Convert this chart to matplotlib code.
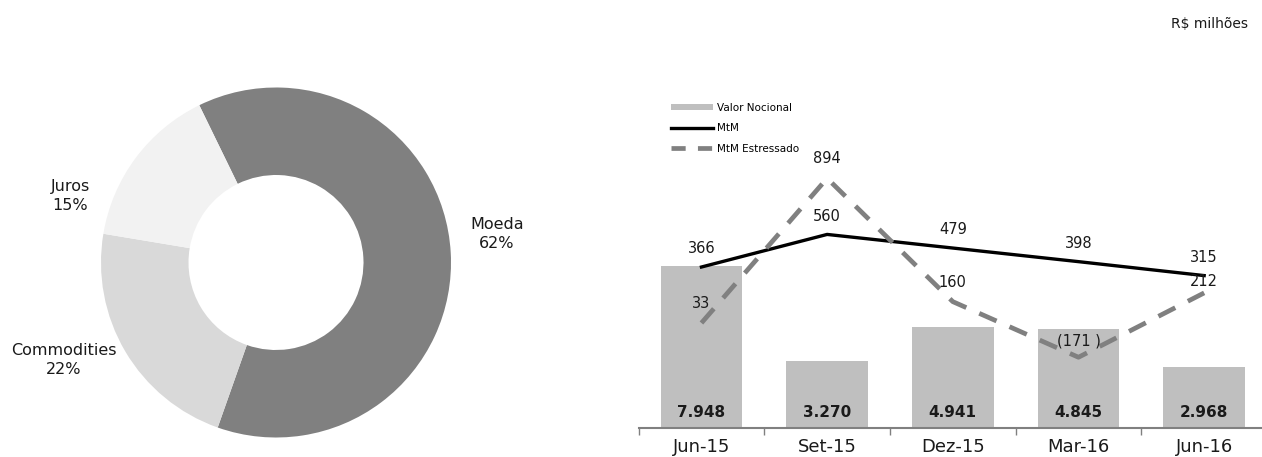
import numpy as np
import matplotlib
matplotlib.use("Agg")
import matplotlib.pyplot as plt
from matplotlib.patches import Patch
from matplotlib.lines import Line2D

# composicao por fator de risco
risk_labels = ["Moeda", "Commodities", "Juros"]
risk_share = [62, 22, 15]

# evolucao trimestral (R$ milhoes)
quarters = ["Jun-15", "Set-15", "Dez-15", "Mar-16", "Jun-16"]
notional = [7948, 3270, 4941, 4845, 2968]
mtm = [366, 560, 479, 398, 315]
mtm_stress = [33, 894, 160, -171, 212]


def fmt_br(v):
    # 7948 -> 7.948, -171 -> (171 )
    if v < 0:
        return "(%d )" % abs(v)
    return "{:,}".format(v).replace(",", ".")


def main():
    W, H = 1262, 457
    fig = plt.figure(figsize=(W / 100, H / 100), dpi=100)
    plt.rcParams['font.family'] = ['DejaVu Sans']

    # ---- donut (eixos em pixels) ----
    axp = fig.add_axes([0, 0, 560 / W, 1])
    axp.pie(risk_share, colors=['#808080', '#d9d9d9', '#f2f2f2'], startangle=116,
            counterclock=False, center=(276, H - 262.5), radius=175,
            wedgeprops=dict(width=175 * 0.5, linewidth=0))
    axp.set_xlim(0, 560)
    axp.set_ylim(0, H)
    axp.set_aspect('auto')
    axp.axis('off')

    label_pos = {"Moeda": (497, H - 234), "Commodities": (64, H - 360), "Juros": (70, H - 196)}
    for name, share in zip(risk_labels, risk_share):
        x, y = label_pos[name]
        axp.text(x, y, "%s\n%d%%" % (name, share), ha='center', va='center',
                 fontsize=11.5, linespacing=1.3, color='#1a1a1a')

    # ---- barras + linhas ----
    x0, x1 = 638.6, 1267.0
    y_bot, y_top = 29, H - 100
    ax = fig.add_axes([x0 / W, y_bot / H, (x1 - x0) / W, (y_top - y_bot) / H])
    xs = np.arange(len(quarters))
    ax.bar(xs, notional, width=0.65, color='#bfbfbf', zorder=1)
    ax.set_xlim(-0.5, 4.5)
    ax.set_ylim(0, 16078)

    for s in ['top', 'right', 'left']:
        ax.spines[s].set_visible(False)
    ax.spines['bottom'].set_color('#808080')
    ax.spines['bottom'].set_linewidth(1.5)
    ax.set_yticks([])
    ax.set_xticks(xs)
    ax.set_xticklabels(quarters, fontsize=13, color='#1a1a1a')
    ax.tick_params(axis='x', which='major', length=0, pad=7)
    ax.set_xticks(np.arange(-0.5, 4.6, 1.0), minor=True)
    ax.tick_params(axis='x', which='minor', length=5, width=1, color='#808080', direction='out')

    for i, v in enumerate(notional):
        ax.annotate(fmt_br(v), xy=(i, 0), xytext=(0, 11), textcoords='offset points',
                    ha='center', va='center', fontsize=11, fontweight='bold', color='#1a1a1a')

    ax2 = ax.twinx()
    ax2.set_ylim(-592, 1360)
    ax2.axis('off')
    ax2.plot(xs, mtm, color='black', linewidth=2.4, zorder=3)
    ax2.plot(xs, mtm_stress, color='#808080', linewidth=3.4, dashes=(4, 3),
             dash_capstyle='butt', zorder=4)

    for i, v in enumerate(mtm):
        ax2.annotate(fmt_br(v), xy=(i, v), xytext=(0, 13), textcoords='offset points',
                     ha='center', va='center', fontsize=10.5, color='#1a1a1a', zorder=5)
    stress_off = [14, 14, 14, 12, 8.5]
    for i, v in enumerate(mtm_stress):
        ax2.annotate(fmt_br(v), xy=(i, v), xytext=(0, stress_off[i]), textcoords='offset points',
                     ha='center', va='center', fontsize=10.5, color='#1a1a1a', zorder=5)

    handles = [Patch(facecolor='#bfbfbf', edgecolor='none'),
               Line2D([], [], color='black', linewidth=2.4),
               Line2D([], [], color='#808080', linewidth=3.4, dashes=(3, 2.6), dash_capstyle='butt')]
    fig.legend(handles, ["Valor Nocional", "MtM", "MtM Estressado"], loc='upper left',
               bbox_to_anchor=(671 / W, 1 - 103 / H), frameon=False, fontsize=7.5,
               handlelength=4.0, handleheight=0.5, handletextpad=0.4, labelspacing=1.0,
               borderpad=0, borderaxespad=0)

    fig.text(1171 / W, 1 - 24 / H, "R$ milhões", ha='left', va='center', fontsize=10,
             color='#1a1a1a')

    plt.savefig("out.png", dpi=100)


if __name__ == "__main__":
    main()
